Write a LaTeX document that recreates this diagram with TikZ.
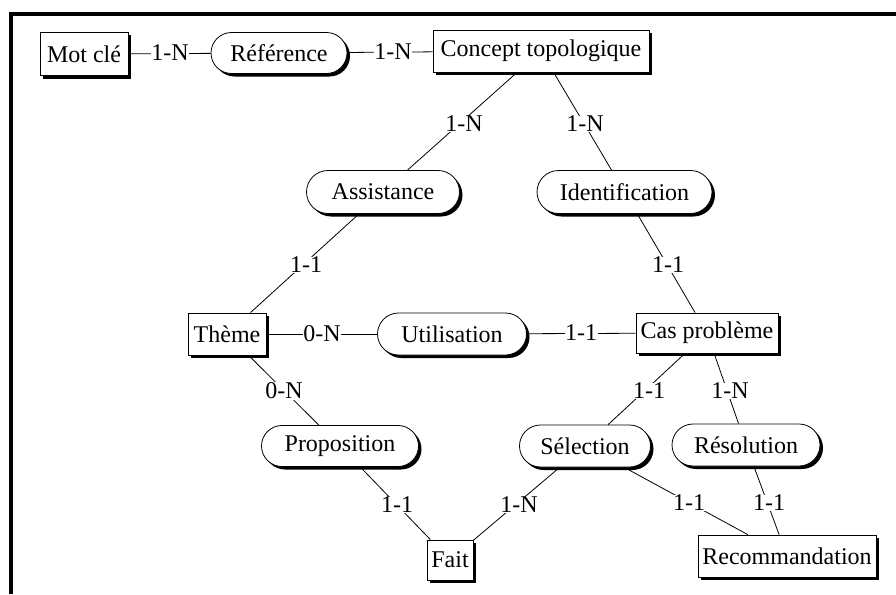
\documentclass[tikz,border=0pt]{standalone}
\usepackage{fontspec}
\setmainfont{Liberation Serif}
\usetikzlibrary{shapes.misc,shadows}
\tikzset{
  lbl/.style={font=\fontsize{24}{27}\selectfont},
  shd/.style={drop shadow={shadow xshift=3pt,shadow yshift=-3pt,fill=black,opacity=1}},
  ent/.style={lbl,draw,rectangle,fill=white,line width=0.8pt,inner sep=0pt,shd},
  rel/.style={lbl,draw,rounded rectangle,fill=white,line width=0.8pt,inner sep=0pt,shd},
  card/.style={lbl,fill=white,inner sep=0.5pt},
  conn/.style={line width=0.8pt}
}
\begin{document}
\begin{tikzpicture}[x=1pt,y=-1pt]
\useasboundingbox (0,0) rectangle (896,594);
\draw[line width=4pt,line join=miter] (11.3,594) -- (11.3,14.5) -- (896,14.5);

% entities and relations
\node[ent,minimum width=88pt,minimum height=43pt] (motcle) at (84,54) {Mot clé};
\node[rel,minimum width=136pt,minimum height=41pt] (ref) at (279,53) {Référence};
\node[ent,minimum width=216pt,minimum height=42pt] (concept) at (541,51) {Concept topologique};
\node[rel,minimum width=153pt,minimum height=43pt] (assist) at (383,192) {Assistance};
\node[rel,minimum width=175pt,minimum height=43pt] (ident) at (624.5,192) {Identification};
\node[ent,minimum width=78pt,minimum height=42pt] (theme) at (227,334) {Thème};
\node[rel,minimum width=149pt,minimum height=42pt] (util) at (452,334) {Utilisation};
\node[ent,minimum width=142pt,minimum height=40pt] (cas) at (707,333) {Cas problème};
\node[rel,minimum width=157pt,minimum height=41pt] (prop) at (340,446) {Proposition};
\node[rel,minimum width=131pt,minimum height=42pt] (sel) at (585,446) {Sélection};
\node[rel,minimum width=148pt,minimum height=42pt] (resol) at (746,445) {Résolution};
\node[ent,minimum width=46pt,minimum height=40pt] (fait) at (450,560) {Fait};
\node[ent,minimum width=178pt,minimum height=42pt] (recom) at (787,556) {Recommandation};

% connectors
\draw[conn] (motcle) -- (ref);
\draw[conn] (ref) -- (concept);
\draw[conn] (concept) -- (assist);
\draw[conn] (concept) -- (ident);
\draw[conn] (assist) -- (theme);
\draw[conn] (ident) -- (cas);
\draw[conn] (theme) -- (util);
\draw[conn] (util) -- (cas);
\draw[conn] (theme) -- (prop);
\draw[conn] (cas) -- (sel);
\draw[conn] (cas) -- (resol);
\draw[conn] (prop) -- (fait);
\draw[conn] (sel) -- (fait);
\draw[conn] (sel) -- (recom);
\draw[conn] (resol) -- (recom);

% cardinalities
\node[card] (c1) at (170,53) {1-N};
\node[card] (c2) at (393,52) {1-N};
\node[card] (c3) at (464,124) {1-N};
\node[card] (c4) at (585,124) {1-N};
\node[card] (c5) at (306,265) {1-1};
\node[card] (c6) at (668,265) {1-1};
\node[card] (c7) at (322,334) {0-N};
\node[card] (c8) at (581,333) {1-1};
\node[card] (c9) at (284,391) {0-N};
\node[card] (c10) at (649,391) {1-1};
\node[card] (c11) at (730,391) {1-N};
\node[card] (c12) at (397,505) {1-1};
\node[card] (c13) at (519,505) {1-N};
\node[card] (c14) at (689,503) {1-1};
\node[card] (c15) at (769,503) {1-1};
\end{tikzpicture}
\end{document}
